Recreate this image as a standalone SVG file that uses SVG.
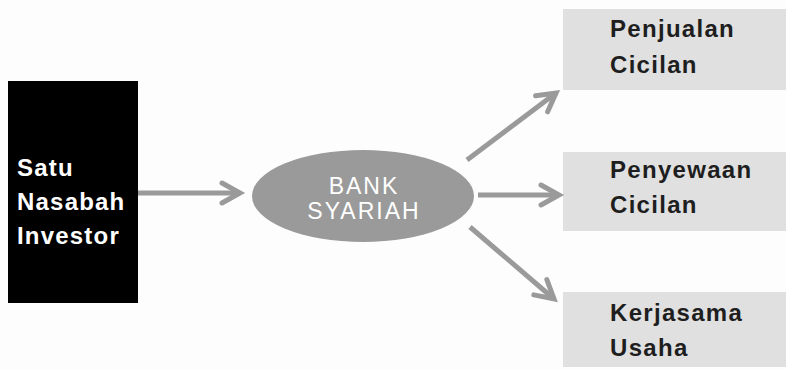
<svg xmlns="http://www.w3.org/2000/svg" width="786" height="369" viewBox="0 0 786 369">
<defs>
<style>
.lbl{font-family:"Liberation Sans",Arial,sans-serif;font-weight:bold;font-size:24px;letter-spacing:1.3px;fill:#1e1e1e}
.wlbl{font-family:"Liberation Sans",Arial,sans-serif;font-weight:bold;font-size:24px;letter-spacing:1.2px;fill:#ffffff}
.elbl{font-family:"Liberation Sans",Arial,sans-serif;font-size:23px;letter-spacing:2px;fill:#ffffff;text-anchor:middle}
.box{fill:#e0e0e0}
.conn{stroke:#9a9a9a;stroke-width:5;fill:none}
</style>
<marker id="arr" markerUnits="userSpaceOnUse" markerWidth="30" markerHeight="30" refX="22" refY="12" orient="auto" viewBox="0 0 30 24">
<path d="M4,2 L22,12 L4,22" fill="none" stroke="#9a9a9a" stroke-width="5" stroke-linecap="round" stroke-linejoin="miter"/>
</marker>
</defs>
<rect width="786" height="369" fill="#fdfdfd"/>
<g id="investor">
<rect x="8" y="81" width="130" height="222" fill="#000"/>
<text class="wlbl" x="17" y="176">Satu</text>
<text class="wlbl" x="17" y="210">Nasabah</text>
<text class="wlbl" x="17" y="244">Investor</text>
</g>
<g id="bank">
<ellipse cx="363" cy="196" rx="111" ry="46" fill="#9a9a9a"/>
<text class="elbl" x="364" y="194">BANK</text>
<text class="elbl" x="364" y="219">SYARIAH</text>
</g>
<g id="penjualan">
<rect class="box" x="563" y="9" width="223" height="81"/>
<text class="lbl" x="610" y="37">Penjualan</text>
<text class="lbl" x="610" y="73">Cicilan</text>
</g>
<g id="penyewaan">
<rect class="box" x="563" y="152" width="223" height="79"/>
<text class="lbl" x="610" y="178">Penyewaan</text>
<text class="lbl" x="610" y="213">Cicilan</text>
</g>
<g id="kerjasama">
<rect class="box" x="563" y="292" width="223" height="75"/>
<text class="lbl" x="610" y="321">Kerjasama</text>
<text class="lbl" x="610" y="356">Usaha</text>
</g>
<g id="connectors">
<line class="conn" x1="138" y1="193" x2="240" y2="193" marker-end="url(#arr)"/>
<line class="conn" x1="467" y1="160" x2="556" y2="93" marker-end="url(#arr)"/>
<line class="conn" x1="478" y1="195" x2="559" y2="195" marker-end="url(#arr)"/>
<line class="conn" x1="470" y1="227" x2="554" y2="299" marker-end="url(#arr)"/>
</g>
</svg>
